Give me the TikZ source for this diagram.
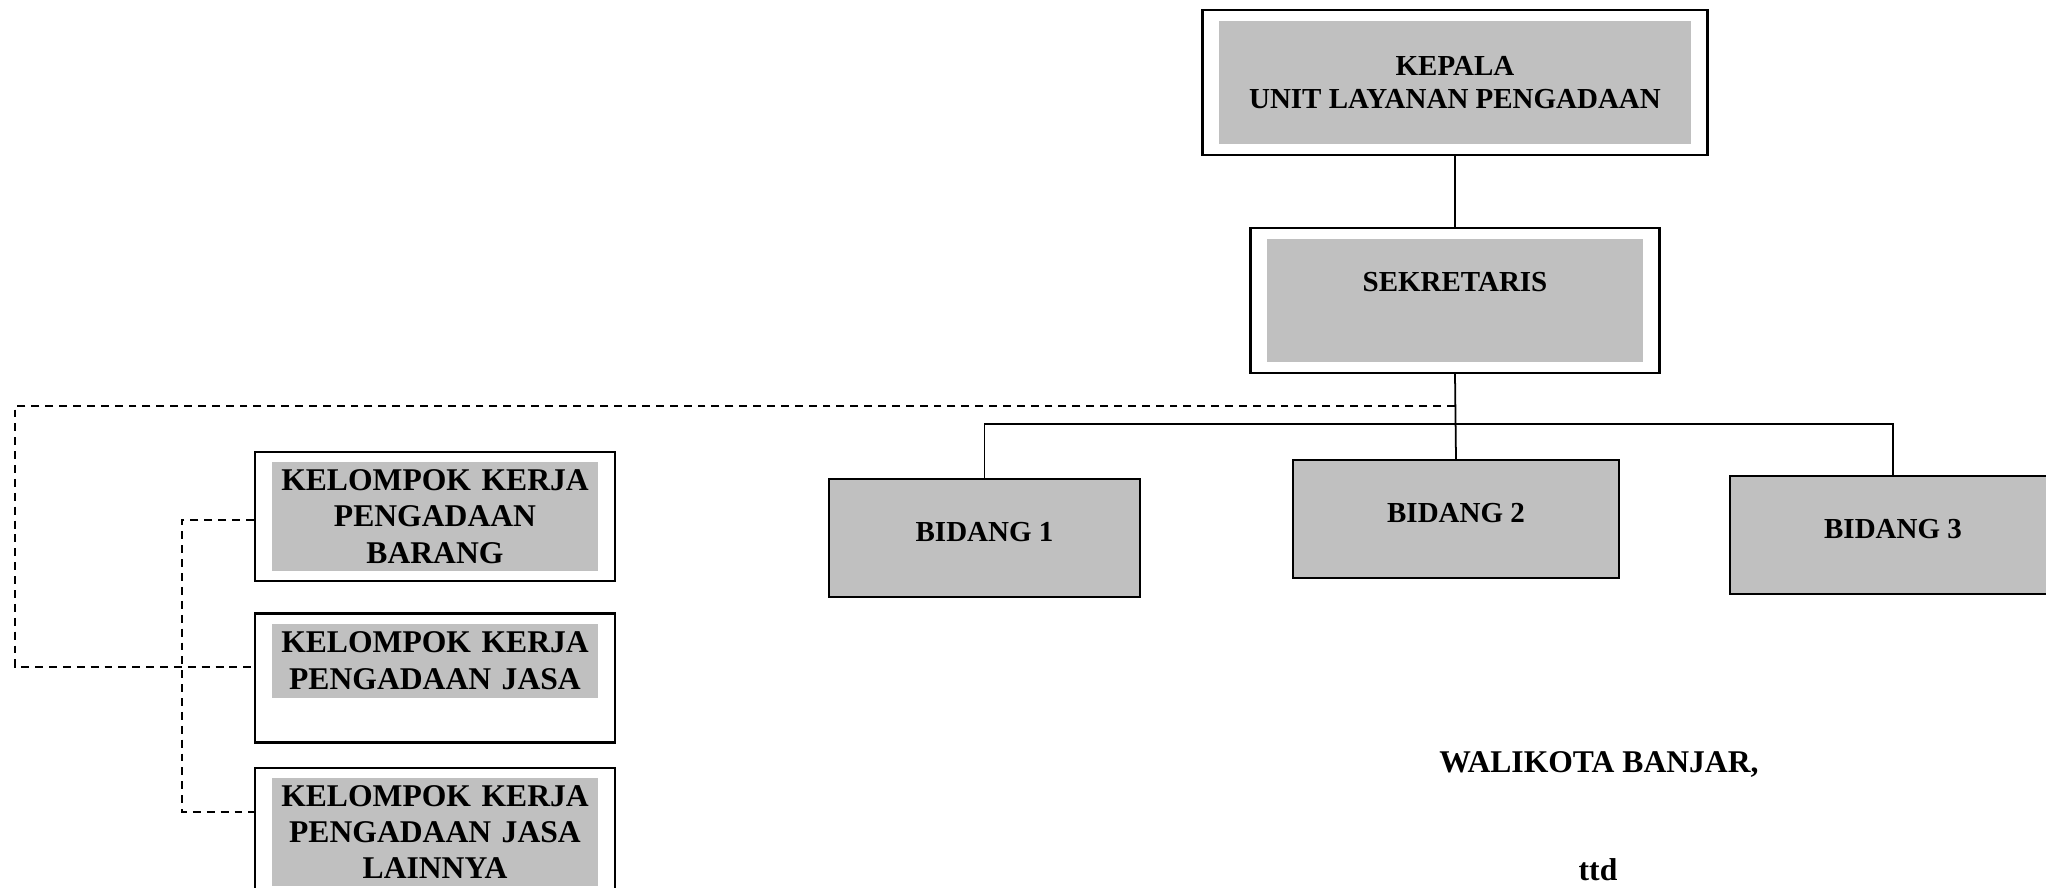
\documentclass[tikz,border=0pt]{standalone}
\usepackage{fontspec}
\setmainfont{Liberation Serif}
\usetikzlibrary{calc}
\usetikzlibrary{fit}
\usetikzlibrary{positioning}

\definecolor{ulpgray}{RGB}{192,192,192}

\tikzset{
  graybox/.style={fill=ulpgray,align=center,inner sep=0pt,font=\bfseries\fontsize{16.5}{18.7}\selectfont},
  ulpframe/.style={draw,line width=1.4pt,inner xsep=0.32cm,inner ysep=0.21cm},
  bidang/.style={draw,fill=ulpgray,line width=0.8pt,minimum height=2.36cm,text depth=0.24cm,font=\bfseries\fontsize{16.5}{18.7}\selectfont},
  kkframe/.style={draw,line width=1.4pt,minimum width=7.2cm,minimum height=2.58cm},
  kkbox/.style={fill=ulpgray,text width=6.54cm,align=center,inner sep=0pt,anchor=north,font=\bfseries\fontsize{18}{20.7}\selectfont},
  dashline/.style={dash pattern=on 4.5pt off 3.4pt,line width=0.9pt},
  signtext/.style={anchor=base,font=\bfseries\fontsize{18}{21}\selectfont}
}

\begin{document}
\begin{tikzpicture}[x=0.02cm,y=-0.02cm]
\useasboundingbox (0,0) rectangle (2046,888);
\clip (0,0) rectangle (2046,888);

% kepala dan sekretaris
\node[graybox,minimum width=9.44cm,minimum height=2.46cm] (kepala) at (1455,82.5) {KEPALA\\UNIT LAYANAN PENGADAAN};
\node[ulpframe,fit=(kepala)] (kepalafr) {};

\node[graybox,minimum width=7.52cm,minimum height=2.46cm,text depth=0.74cm] (sek) at (1455,300.5) {SEKRETARIS};
\node[ulpframe,fit=(sek)] (sekfr) {};

% bidang
\node[bidang,minimum width=6.22cm] (bid1) at (984.5,538) {BIDANG 1};
\node[bidang,minimum width=6.52cm] (bid2) at (1456,519) {BIDANG 2};
\node[bidang,minimum width=6.52cm] (bid3) at (1893,535) {BIDANG 3};

% kelompok kerja
\node[kkframe] (kkb) at (435,516.5) {};
\node[kkframe,below=0.6cm of kkb] (kkj) {};
\node[kkframe,below=0.46cm of kkj] (kkl) {};

\node[kkbox,minimum height=2.18cm] (kkbtxt) at ($(kkb.north)+(0,11)$) {KELOMPOK KERJA\\PENGADAAN\\BARANG};
\node[kkbox,minimum height=1.48cm] (kkjtxt) at ($(kkj.north)+(0,11)$) {KELOMPOK KERJA\\PENGADAAN JASA};
\node[kkbox,minimum height=2.16cm] (kkltxt) at ($(kkl.north)+(0,11)$) {KELOMPOK KERJA\\PENGADAAN JASA\\LAINNYA};

% tanda tangan
\node[signtext] (walikota) at (1599,772) {WALIKOTA BANJAR,};
\node[signtext] (ttd) at (1598,880) {ttd};

% garis
\coordinate (bus) at (1456,424);
\draw[line width=1pt] (kepalafr.south) -- (sekfr.north);
\draw[line width=1pt] (sekfr.south) -- (bid2.north);
\draw[line width=1.1pt] (bid1.north) |- (bus) -| (bid3.north);

\coordinate (pokja) at (15,667);
\coordinate (kkcorner) at (182,812);
\draw[dashline] ($(sekfr.south)+(0,32)$) -| (pokja) -- (pokja -| kkj.west);
\draw[dashline] ($(kkb.west)+(0,3.5)$) -| (kkcorner) -- (kkcorner -| kkl.west);

\end{tikzpicture}
\end{document}
